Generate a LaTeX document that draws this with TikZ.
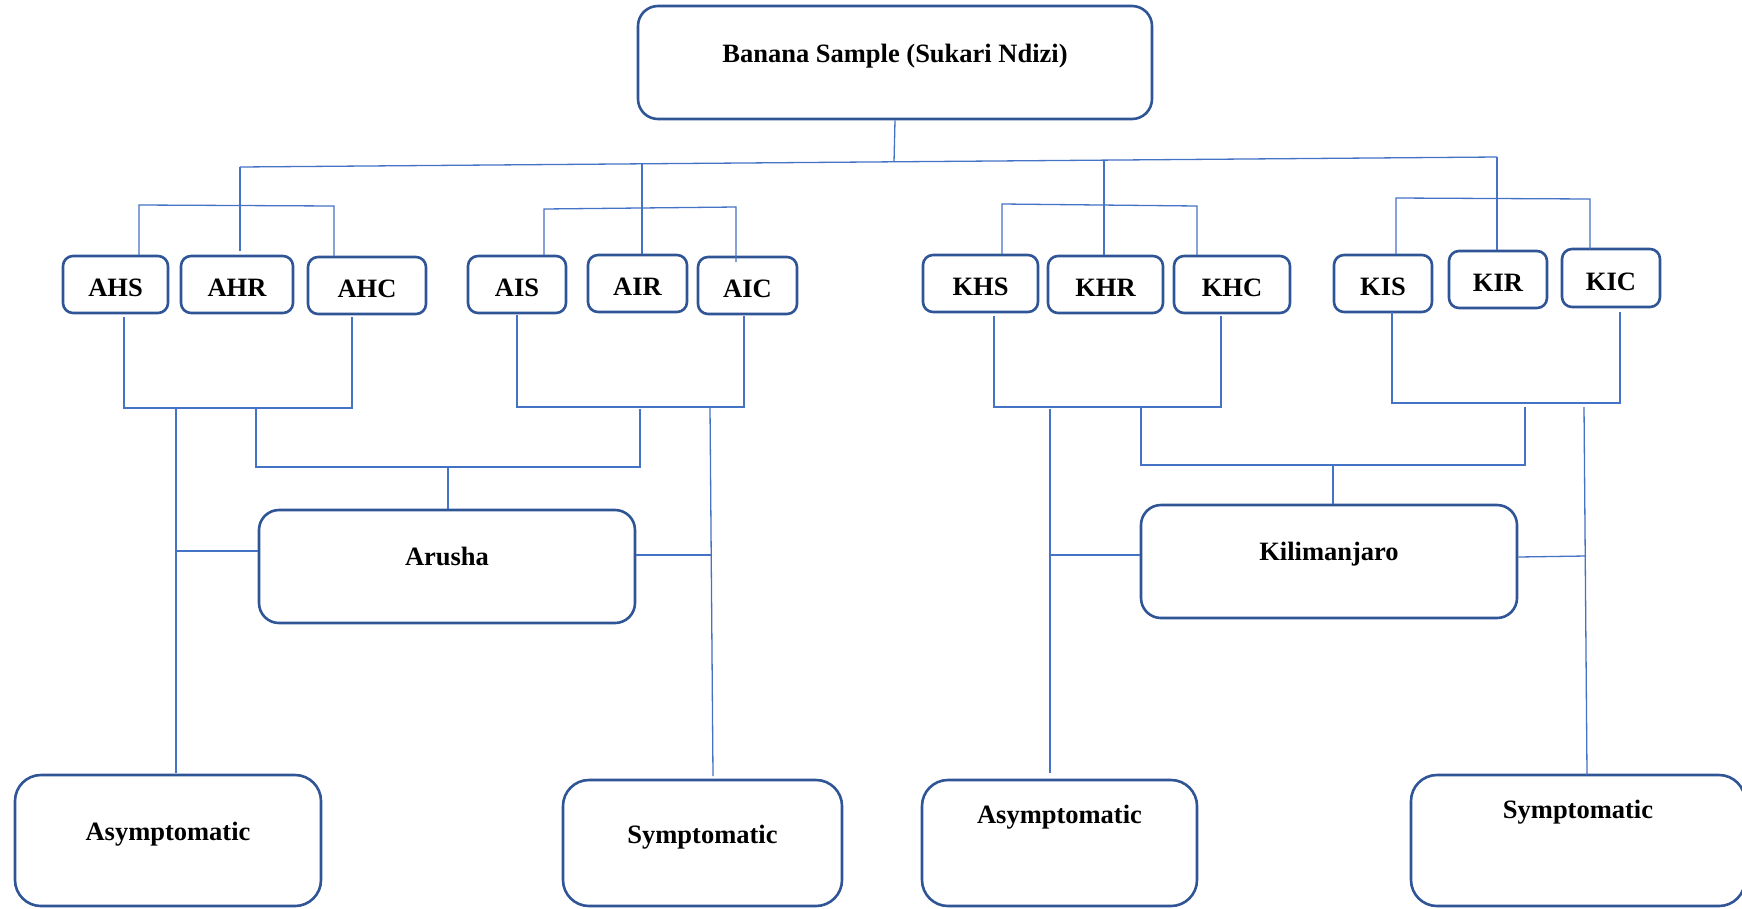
\documentclass[tikz,border=0pt]{standalone}
\usepackage{fontspec}
\setmainfont{Liberation Serif}
\definecolor{boxblue}{HTML}{2F5597}
\definecolor{lineblue}{HTML}{4472C4}
\tikzset{
  txt/.style={font=\fontsize{26.5}{30}\selectfont\bfseries},
  smallbox/.style={draw=boxblue, line width=2.6pt, rounded corners=10pt, fill=white, inner sep=0pt, minimum height=57pt, text height=24pt, text depth=0pt, txt},
  bigbox/.style={draw=boxblue, line width=2.6pt, rounded corners=20pt, fill=white, inner sep=0pt},
  lowbox/.style={draw=boxblue, line width=2.6pt, rounded corners=26pt, fill=white, inner sep=0pt},
  lbl/.style={txt, anchor=base, inner sep=0pt},
  conn/.style={draw=lineblue, line width=1.3pt},
}
\begin{document}
\begin{tikzpicture}[x=1pt,y=-1pt]
\useasboundingbox (0,0) rectangle (1742,908);

% ---- boxes ----
\node[bigbox, minimum width=514pt, minimum height=113pt] (top) at (895,62.5) {};
\node[lbl] (topT) at (895,62) {Banana Sample (Sukari Ndizi)};

\node[smallbox, minimum width=105pt] (AHS) at (115.5,284.5) {AHS};
\node[smallbox, minimum width=112pt] (AHR) at (237,284.5) {AHR};
\node[smallbox, minimum width=118pt] (AHC) at (367,285.5) {AHC};
\node[smallbox, minimum width=98pt] (AIS) at (517,284.5) {AIS};
\node[smallbox, minimum width=99pt] (AIR) at (637.5,283.5) {AIR};
\node[smallbox, minimum width=99pt] (AIC) at (747.5,285.5) {AIC};
\node[smallbox, minimum width=115pt] (KHS) at (980.5,283.5) {KHS};
\node[smallbox, minimum width=115pt] (KHR) at (1105.5,284.5) {KHR};
\node[smallbox, minimum width=116pt] (KHC) at (1232,284.5) {KHC};
\node[smallbox, minimum width=98pt] (KIS) at (1383,283.5) {KIS};
\node[smallbox, minimum width=98pt] (KIR) at (1498,279.5) {KIR};
\node[smallbox, minimum width=98pt, minimum height=58pt] (KIC) at (1611,278) {KIC};

\node[bigbox, minimum width=376pt, minimum height=113pt] (aru) at (447,566.5) {};
\node[lbl] (aruT) at (447,565) {Arusha};
\node[bigbox, minimum width=376pt, minimum height=113pt] (kil) at (1329,561.5) {};
\node[lbl] (kilT) at (1329,560) {Kilimanjaro};

\node[lowbox, minimum width=306pt, minimum height=131pt] (asyL) at (168,840.5) {};
\node[lbl] (asyLT) at (168,840) {Asymptomatic};
\node[lowbox, minimum width=279pt, minimum height=126pt] (symL) at (702.5,843) {};
\node[lbl] (symLT) at (702.5,843) {Symptomatic};
\node[lowbox, minimum width=275pt, minimum height=126pt] (asyR) at (1059.5,843) {};
\node[lbl] (asyRT) at (1059.5,823) {Asymptomatic};
\node[lowbox, minimum width=334pt, minimum height=131pt] (symR) at (1578,840.5) {};
\node[lbl] (symRT) at (1578,818) {Symptomatic};

% ---- connectors: top level ----
\coordinate (mL) at (240,167);
\coordinate (mR) at (1497,157);
\draw[conn] (top.south) -- (894,162);
\draw[conn] (mL) -- (mR);
\draw[conn] (mL) -- (240,251);
\draw[conn] (642,164) -- (AIR.north -| 642,0);
\draw[conn] (1104,161) -- (1104,255);
\draw[conn] (mR) -- (1497,250);

% ---- group brackets (top) ----
\draw[conn] (139,255) -- (139,205) -- (334,206) -- (334,256);
\draw[conn] (544,255) -- (544,209) -- (736,207) -- (736,262);
\draw[conn] (1002,254) -- (1002,204) -- (1197,206) -- (1197,255);
\draw[conn] (1396,254) -- (1396,198) -- (1590,199) -- (1590,249);

% ---- group brackets (bottom) ----
\draw[conn] (124,317) -- (124,408) -- (352,408) -- (352,317);
\draw[conn] (517,315) -- (517,407) -- (744,407) -- (744,316);
\draw[conn] (994,316) -- (994,407) -- (1221,407) -- (1221,316);
\draw[conn] (1392,312) -- (1392,403) -- (1620,403) -- (1620,312);

% ---- Arusha ----
\draw[conn] (256,408) -- (256,467) -- (640,467) -- (640,409);
\draw[conn] (448,467) -- (aru.north -| 448,0);
\draw[conn] (176,408) -- (176,773);
\draw[conn] (176,551) -- (aru.west |- 0,551);
\draw[conn] (710,407) -- (713,776);
\draw[conn] (aru.east |- 0,555) -- (711,555);

% ---- Kilimanjaro ----
\draw[conn] (1141,407) -- (1141,465) -- (1525,465) -- (1525,407);
\draw[conn] (1333,465) -- (kil.north -| 1333,0);
\draw[conn] (1050,409) -- (1050,773);
\draw[conn] (1050,555) -- (kil.west |- 0,555);
\draw[conn] (1584,407) -- (1587,775);
\draw[conn] (kil.east |- 0,557) -- (1586,556);
\end{tikzpicture}
\end{document}
